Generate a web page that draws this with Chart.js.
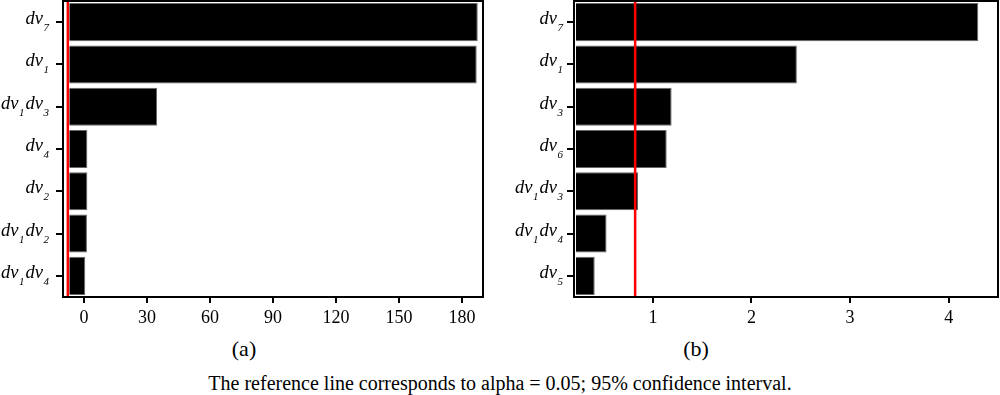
<!DOCTYPE html>
<html>
<head>
<meta charset="utf-8">
<script src="https://cdn.jsdelivr.net/npm/chart.js@4/dist/chart.umd.min.js"></script>
<style>
  body { margin: 0; background: #fff; width: 1000px; height: 395px; position: relative; overflow: hidden; font-family: "Liberation Serif", "Times New Roman", serif; }
  .box { position: absolute; top: 0; height: 335px; }
  #boxA { left: 0; width: 495px; }
  #boxB { left: 495px; width: 505px; }
  .cap { position: absolute; color: #000; white-space: nowrap; transform: translate(-50%, -50%); }
</style>
</head>
<body>
<div class="box" id="boxA"><canvas id="chartA"></canvas></div>
<div class="box" id="boxB"><canvas id="chartB"></canvas></div>
<div class="cap" style="left:244px; top:349px; font-size:22px;">(a)</div>
<div class="cap" style="left:696px; top:349px; font-size:22px;">(b)</div>
<div class="cap" style="left:500px; top:383px; font-size:20px;">The reference line corresponds to alpha = 0.05; 95% confidence interval.</div>
<script>
// (a) panel
const labelsA = ['dv7', 'dv1', 'dv1dv3', 'dv4', 'dv2', 'dv1dv2', 'dv1dv4'];
const valuesA = [187.5, 187, 34.8, 1.6, 1.6, 1.4, 0.6];
const ticksA = [0, 30, 60, 90, 120, 150, 180];
const refA = -7.7;

// (b) panel
const labelsB = ['dv7', 'dv1', 'dv3', 'dv6', 'dv1dv3', 'dv1dv4', 'dv5'];
const valuesB = [4.30, 2.46, 1.19, 1.14, 0.85, 0.53, 0.41];
const ticksB = [1, 2, 3, 4];
const refB = 0.82;

// draws the box, red reference line and the dv labels with subscripts
const paretoPlugin = {
    id: 'pareto',
    afterDatasetsDraw(chart, args, opts) {
        const a = chart.chartArea;
        const ctx = chart.ctx;
        const xs = chart.scales.x;
        ctx.save();
        ctx.strokeStyle = '#ff0000';
        ctx.lineWidth = 2.5;
        const rx = xs.getPixelForValue(opts.ref);
        ctx.beginPath();
        ctx.moveTo(rx, a.top);
        ctx.lineTo(rx, a.bottom);
        ctx.stroke();
        ctx.restore();
    },
    afterDraw(chart, args, opts) {
        const a = chart.chartArea;
        const ctx = chart.ctx;
        const ys = chart.scales.y;
        ctx.save();
        ctx.strokeStyle = '#000';
        ctx.lineWidth = 2;
        ctx.strokeRect(a.left, a.top, a.right - a.left, a.bottom - a.top);

        ctx.fillStyle = '#000';
        ctx.textBaseline = 'alphabetic';
        const mainFont = 'italic 18.5px "Liberation Serif"';
        const subFont = 'italic 11px "Liberation Serif"';
        chart.data.labels.forEach((lab, i) => {
            const y = ys.getPixelForValue(i);
            const parts = [...lab.matchAll(/([a-z]+)(\d)/g)].map(m => [m[1], m[2]]);
            let w = 0;
            parts.forEach((p, k) => {
                ctx.font = mainFont; w += ctx.measureText(p[0]).width + 0.5;
                ctx.font = subFont; w += ctx.measureText(p[1]).width + (k < parts.length - 1 ? 1 : 0);
            });
            let x = a.left - opts.gap - w;
            parts.forEach(p => {
                ctx.font = mainFont;
                ctx.fillText(p[0], x, y + 2);
                x += ctx.measureText(p[0]).width + 0.5;
                ctx.font = subFont;
                ctx.fillText(p[1], x, y + 9);
                x += ctx.measureText(p[1]).width + 1;
            });
        });
        ctx.restore();
    }
};

function makeChart(id, labels, values, ticks, min, max, base, ref, yWidth, padRight, gap) {
    return new Chart(document.getElementById(id), {
        type: 'bar',
        data: {
            labels: labels,
            datasets: [{
                data: values,
                base: base,
                backgroundColor: '#000',
                borderColor: '#666',
                borderWidth: 1,
                categoryPercentage: 0.9,
                barPercentage: 1
            }]
        },
        options: {
            indexAxis: 'y',
            animation: false,
            responsive: true,
            maintainAspectRatio: false,
            layout: { padding: { top: 1, right: padRight, left: 0, bottom: 0 } },
            plugins: {
                legend: { display: false },
                tooltip: { enabled: false },
                pareto: { ref: ref, gap: gap }
            },
            scales: {
                x: {
                    type: 'linear',
                    min: min,
                    max: max,
                    afterBuildTicks: s => { s.ticks = ticks.map(v => ({ value: v })); },
                    afterFit: s => { s.height = 38; },
                    grid: { drawOnChartArea: false, drawTicks: true, tickLength: 6, color: '#000', lineWidth: 2 },
                    border: { display: true, color: '#000', width: 2 },
                    ticks: { color: '#000', padding: 4, maxRotation: 0, font: { family: '"Liberation Serif"', size: 18 } }
                },
                y: {
                    type: 'category',
                    afterFit: s => { s.width = yWidth; },
                    grid: { offset: false, drawOnChartArea: false, drawTicks: true, tickLength: 7, color: '#000', lineWidth: 2 },
                    border: { display: true, color: '#000', width: 2 },
                    ticks: { display: false }
                }
            }
        },
        plugins: [paretoPlugin]
    });
}

makeChart('chartA', labelsA, valuesA, ticksA, -10, 190, -7.0, refA, 63, 12, 14);
makeChart('chartB', labelsB, valuesB, ticksB, 0.2, 4.5, 0.22, refB, 79, 2, 11);
</script>
</body>
</html>
